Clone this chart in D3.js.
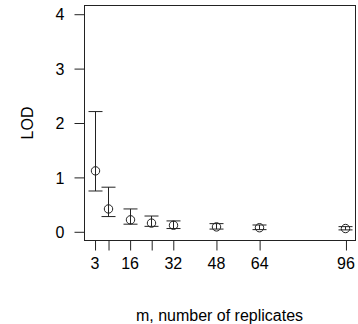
<!DOCTYPE html>
<html><head><meta charset="utf-8">
<script src="https://cdn.jsdelivr.net/npm/d3@7"></script>
<style>body{margin:0;background:#fff}svg{display:block}text{font-family:"Liberation Sans",Arial,sans-serif;fill:#000}</style>
</head><body>
<svg id="c" width="358" height="324"></svg>
<script>
const replicates = [3, 8, 16, 24, 32, 48, 64, 96];
const lodMean = [1.12, 0.42, 0.22, 0.16, 0.12, 0.09, 0.075, 0.06];
const lodLower = [0.75, 0.28, 0.14, 0.10, 0.06, 0.05, 0.04, 0.035];
const lodUpper = [2.21, 0.82, 0.42, 0.29, 0.20, 0.15, 0.125, 0.095];
const xTicks = [3, 8, 16, 24, 32, 48, 64, 96];
const xTickLabels = ["3", "", "16", "", "32", "48", "64", "96"];
const yTicks = [0, 1, 2, 3, 4];

const svg = d3.select("#c");
const x = d3.scaleLinear().domain([-0.72, 99.72]).range([84.5, 355.5]);
const y = d3.scaleLinear().domain([-0.16, 4.16]).range([240.5, 5.5]);
const col = "#222";

// box
svg.append("rect").attr("x", 84.5).attr("y", 5.5).attr("width", 271).attr("height", 235)
  .attr("fill", "none").attr("stroke", col).attr("stroke-width", 1);

// x axis
const xa = svg.append("g").attr("transform", "translate(0,240.5)")
  .call(d3.axisBottom(x).tickValues(xTicks).tickSize(10).tickFormat((d, i) => xTickLabels[i]).tickPadding(4));
xa.select(".domain").remove();
xa.selectAll("line").attr("stroke", col).attr("transform", function(){return "translate(0.5,0)";});
xa.selectAll("text").attr("font-size", 16).attr("fill", "#000").attr("dy", "0.9em");

// y axis
const ya = svg.append("g").attr("transform", "translate(84.5,0)")
  .call(d3.axisLeft(y).tickValues(yTicks).tickSize(10).tickFormat(d3.format("d")).tickPadding(10));
ya.select(".domain").remove();
ya.selectAll("line").attr("stroke", col);
ya.selectAll("text").attr("font-size", 16).attr("fill", "#000").attr("dy", "0.36em");

// axis titles
svg.append("text").attr("x", 219.5).attr("y", 321).attr("text-anchor", "middle").attr("font-size", 16)
  .text("m, number of replicates");
svg.append("text").attr("transform", "translate(33,123) rotate(-90)").attr("text-anchor", "middle").attr("font-size", 16)
  .text("LOD");

// error bars
const g = svg.append("g").attr("stroke", col).attr("fill", "none").attr("stroke-width", 1);
replicates.forEach((m, i) => {
  const cx = Math.round(x(m)) + 0.5;
  g.append("line").attr("x1", cx).attr("x2", cx).attr("y1", y(lodLower[i])).attr("y2", y(lodUpper[i]));
  g.append("line").attr("x1", cx - 7).attr("x2", cx + 7).attr("y1", y(lodLower[i])).attr("y2", y(lodLower[i]));
  g.append("line").attr("x1", cx - 7).attr("x2", cx + 7).attr("y1", y(lodUpper[i])).attr("y2", y(lodUpper[i]));
  g.append("circle").attr("cx", cx).attr("cy", y(lodMean[i])).attr("r", 4.2);
});
</script>
</body></html>
